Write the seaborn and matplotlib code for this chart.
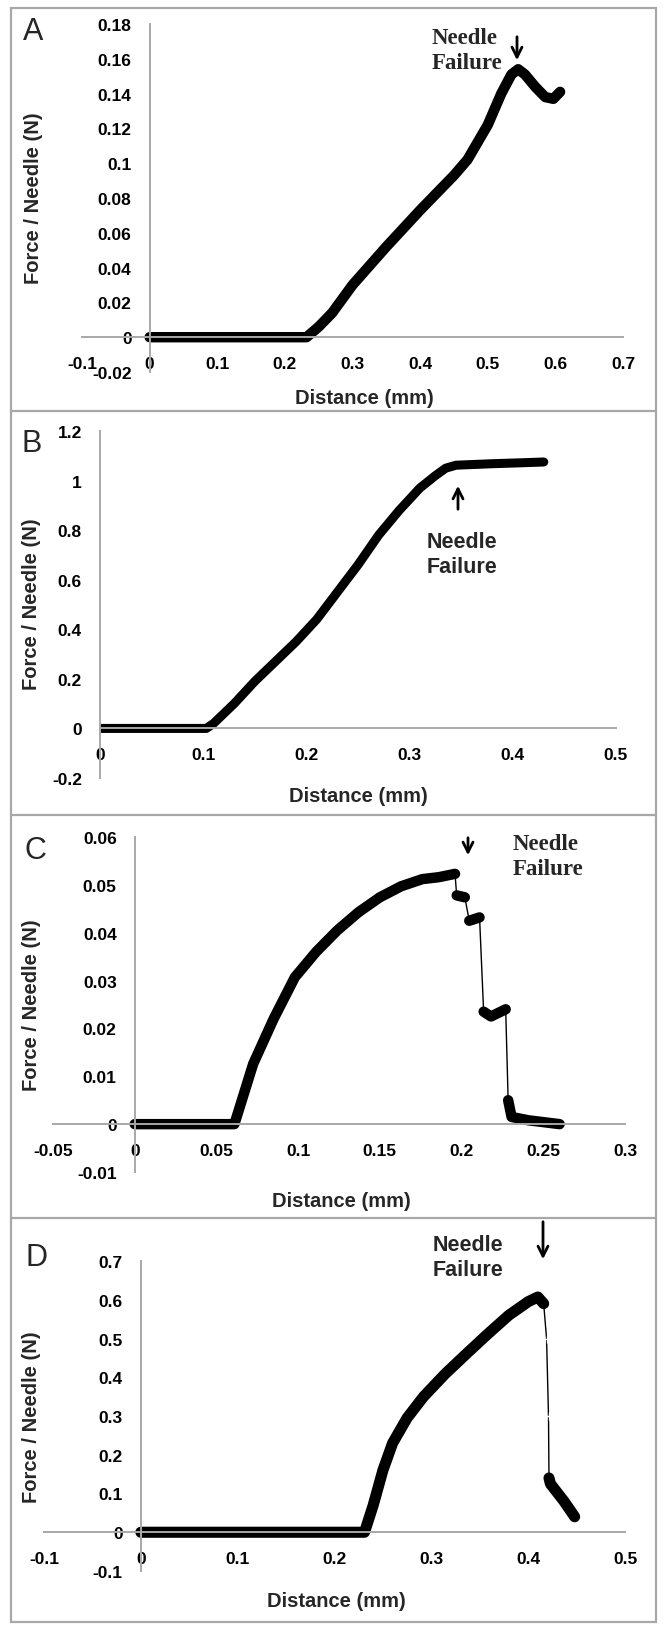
import numpy as np
import pandas as pd
import matplotlib
matplotlib.use("Agg")
import matplotlib.pyplot as plt
import seaborn as sns

# ---- data ----
# A
a_dist = [0, 0.05, 0.10, 0.15, 0.20, 0.232, 0.25, 0.27, 0.30, 0.35, 0.40, 0.45, 0.47,
          0.50, 0.52, 0.535, 0.545, 0.555, 0.57, 0.585, 0.597, 0.607]
a_force = [0, 0, 0, 0, 0, 0, 0.006, 0.014, 0.030, 0.052, 0.073, 0.093, 0.102,
           0.122, 0.140, 0.151, 0.154, 0.151, 0.144, 0.138, 0.137, 0.141]
a_seg = [0] * len(a_dist)
a_xticks = [-0.1, 0, 0.1, 0.2, 0.3, 0.4, 0.5, 0.6, 0.7]
a_yticks = [-0.02, 0, 0.02, 0.04, 0.06, 0.08, 0.1, 0.12, 0.14, 0.16, 0.18]

# B
b_dist = [0, 0.05, 0.103, 0.11, 0.13, 0.15, 0.17, 0.19, 0.21, 0.23, 0.25, 0.27, 0.29,
          0.31, 0.325, 0.335, 0.345, 0.38, 0.41, 0.43]
b_force = [0, 0, 0, 0.02, 0.10, 0.19, 0.27, 0.35, 0.44, 0.55, 0.66, 0.78, 0.88,
           0.97, 1.02, 1.05, 1.062, 1.068, 1.072, 1.075]
b_seg = [0] * len(b_dist)
b_xticks = [0, 0.1, 0.2, 0.3, 0.4, 0.5]
b_yticks = [-0.2, 0, 0.2, 0.4, 0.6, 0.8, 1, 1.2]

# C
c_dist = [0, 0.03, 0.061, 0.0725, 0.085, 0.098, 0.111, 0.124, 0.137, 0.150, 0.163,
          0.176, 0.186, 0.196, 0.197, 0.202, 0.2047, 0.211, 0.2135, 0.218, 0.227,
          0.2285, 0.2306, 0.241, 0.26]
c_force = [0, 0, 0, 0.0126, 0.022, 0.0307, 0.036, 0.0405, 0.0443, 0.0474, 0.0497,
           0.0512, 0.0516, 0.0523, 0.0478, 0.0474, 0.0425, 0.0432, 0.0235, 0.0225, 0.0240,
           0.005, 0.0015, 0.0008, 0.0]
c_seg = [0] * 14 + [1, 1] + [2, 2] + [3, 3, 3] + [4, 4, 4, 4]
c_xticks = [-0.05, 0, 0.05, 0.1, 0.15, 0.2, 0.25, 0.3]
c_yticks = [-0.01, 0, 0.01, 0.02, 0.03, 0.04, 0.05, 0.06]

# D
d_dist = [0, 0.1, 0.2, 0.231, 0.240, 0.250, 0.260, 0.275, 0.292, 0.314, 0.336, 0.358,
          0.380, 0.400, 0.410, 0.416, 0.419, 0.421, 0.4215, 0.423, 0.437, 0.448]
d_force = [0, 0, 0, 0, 0.07, 0.16, 0.23, 0.295, 0.35, 0.408, 0.46, 0.511,
           0.56, 0.595, 0.607, 0.59, 0.50, 0.30, 0.14, 0.125, 0.08, 0.04]
d_seg = [0] * 16 + [1, 2] + [3, 3, 3, 3]
d_xticks = [-0.1, 0, 0.1, 0.2, 0.3, 0.4, 0.5]
d_yticks = [-0.1, 0, 0.1, 0.2, 0.3, 0.4, 0.5, 0.6, 0.7]

sns.set_style("white")
plt.rcParams['font.family'] = ['Liberation Sans', 'DejaVu Sans']

W, H = 664, 1633
GRAY = '#a8a8a8'
fig = plt.figure(figsize=(W / 100, H / 100), dpi=100)


def fx(px):
    return px / W


def fy(py):
    return 1 - py / H


def fmt(v):
    s = f"{v:.2f}".rstrip('0').rstrip('.')
    return '0' if s in ('-0', '') else s


def panel(box, dist, force, seg, xticks, yticks, lw, thin, xlab_pos, ylab_pos):
    x0, y0, x1, y1 = box
    ax = fig.add_axes([fx(x0), fy(y1), (x1 - x0) / W, (y1 - y0) / H])
    ax.set_facecolor('none')
    df = pd.DataFrame({'Distance': dist, 'Force': force, 'seg': seg})
    if thin:
        sns.lineplot(data=df, x='Distance', y='Force', ax=ax, estimator=None, sort=False,
                     color='black', lw=1.0, marker='+', markersize=6, mew=1)
    sns.lineplot(data=df, x='Distance', y='Force', units='seg', ax=ax, estimator=None,
                 sort=False, color='black', lw=lw, solid_capstyle='round',
                 solid_joinstyle='round')
    ax.set_xlim(xticks[0], xticks[-1])
    ax.set_ylim(yticks[0], yticks[-1])
    for s in ['top', 'right']:
        ax.spines[s].set_visible(False)
    ax.spines['left'].set_position(('data', 0))
    ax.spines['bottom'].set_position(('data', 0))
    for s in ['left', 'bottom']:
        ax.spines[s].set_color(GRAY)
        ax.spines[s].set_linewidth(1.4)
    ax.set_xticks(xticks)
    ax.set_xticklabels([fmt(v) for v in xticks], fontweight='bold')
    ax.set_yticks(yticks)
    ax.set_yticklabels([fmt(v) for v in yticks], fontweight='bold')
    ax.tick_params(axis='both', direction='out', length=4, width=1.2, color=GRAY,
                   labelsize=12.5, labelcolor='black')
    ax.tick_params(axis='x', pad=9.5)
    ax.tick_params(axis='y', pad=9)
    ax.set_xlabel('Distance (mm)', fontsize=14.5, fontweight='bold')
    ax.xaxis.set_label_coords(fx(xlab_pos[0]), fy(xlab_pos[1]), transform=fig.transFigure)
    ax.xaxis.label.set_va('center')
    ax.set_ylabel('Force / Needle (N)', fontsize=14.5, fontweight='bold')
    ax.yaxis.set_label_coords(fx(ylab_pos[0]), fy(ylab_pos[1]), transform=fig.transFigure)
    ax.yaxis.label.set_va('center')
    return ax


panel((82, 25, 623, 373), a_dist, a_force, a_seg, a_xticks, a_yticks, 7.5, False, (364, 398), (34, 198))
panel((100, 432, 616, 779), b_dist, b_force, b_seg, b_xticks, b_yticks, 6.5, False, (358, 797), (32, 604))
panel((53, 838, 625, 1173), c_dist, c_force, c_seg, c_xticks, c_yticks, 7.5, True, (341, 1202), (32, 1005))
panel((44, 1262, 625, 1572), d_dist, d_force, d_seg, d_xticks, d_yticks, 8, True, (336, 1602), (32, 1417))

# panel frames
fig.add_artist(plt.Rectangle((fx(10.5), fy(1623)), (656 - 10.5) / W, (1623 - 9) / H,
                             transform=fig.transFigure, fill=False, ec=GRAY, lw=1.6))
for yy in [412, 816, 1219]:
    fig.add_artist(plt.Line2D([fx(10.5), fx(656)], [fy(yy), fy(yy)],
                              transform=fig.transFigure, color=GRAY, lw=1.6))

# panel letters
for letter, (px, py) in zip('ABCD', [(33, 32), (32, 444), (35, 851), (36, 1258)]):
    fig.text(fx(px), fy(py), letter, fontsize=22, ha='center', va='center')

# needle failure notes
fig.text(fx(432), fy(51), 'Needle\nFailure', family='Liberation Serif', fontweight='bold',
         fontsize=16.5, ha='left', va='center', linespacing=1.2)
fig.text(fx(462), fy(555), 'Needle\nFailure', fontweight='bold',
         fontsize=15.5, ha='center', va='center', linespacing=1.2)
fig.text(fx(513), fy(857), 'Needle\nFailure', family='Liberation Serif', fontweight='bold',
         fontsize=16.5, ha='left', va='center', linespacing=1.25)
fig.text(fx(468), fy(1258), 'Needle\nFailure', fontweight='bold',
         fontsize=15.5, ha='center', va='center', linespacing=1.2)

arrows = [((517, 35), (517, 64)), ((458, 513), (458, 484)),
          ((468, 836), (468, 859)), ((543, 1220), (543, 1263))]
for (sx, sy), (ex, ey) in arrows:
    fig.add_artist(matplotlib.patches.FancyArrowPatch(
        (fx(sx), fy(sy)), (fx(ex), fy(ey)), transform=fig.transFigure,
        arrowstyle='->', mutation_scale=18, lw=2, color='black'))

plt.savefig('out.png', dpi=100)
